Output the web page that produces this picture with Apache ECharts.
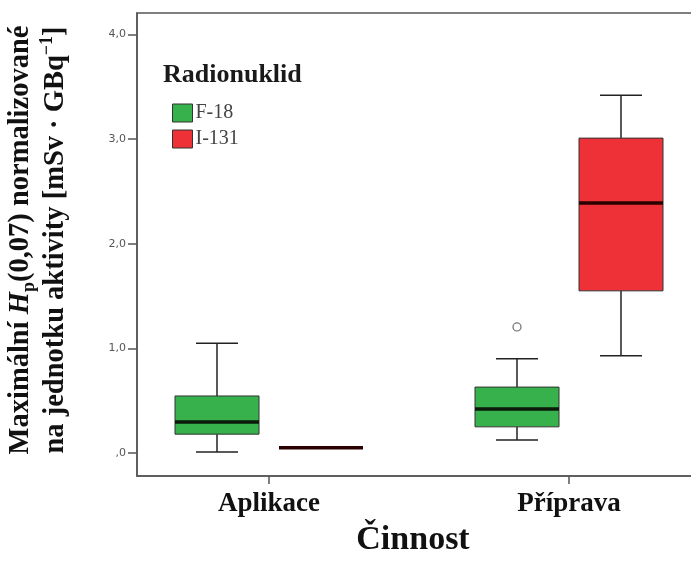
<!DOCTYPE html>
<html>
<head>
<meta charset="utf-8">
<script src="https://cdn.jsdelivr.net/npm/echarts@6/dist/echarts.min.js"></script>
<style>
html, body { margin: 0; padding: 0; background: #fff; }
#main { width: 691px; height: 568px; }
</style>
</head>
<body>
<div id="main"></div>
<script>
var categories = ['Aplikace', 'Příprava'];
// [min, Q1, median, Q3, max] for each category
var f18Box = [[0.01, 0.18, 0.296, 0.545, 1.05], [0.124, 0.25, 0.42, 0.63, 0.90]];
var i131Box = [[0.05, 0.05, 0.05, 0.05, 0.05], [0.93, 1.55, 2.39, 3.01, 3.42]];
// [category index, value]
var f18Outliers = [[1, 1.205]];
var yTicks = [0, 1, 2, 3, 4];
var yTickLabels = [',0', '1,0', '2,0', '3,0', '4,0'];
var catTicks = [1, 2];

var SERIF = 'Liberation Serif';
var BOX_W = 84, SHIFT = 52;

function toData(boxes) {
    return boxes.map(function (b, i) { return [i + 1].concat(b); });
}

function makeBox(shift, medianColor) {
    return function (params, api) {
        var x = api.value(0);
        var py = function (v) { return api.coord([x, v])[1]; };
        var cx = api.coord([x, 0])[0] + shift;
        var yMin = py(api.value(1)), yQ1 = py(api.value(2)), yMed = py(api.value(3));
        var yQ3 = py(api.value(4)), yMax = py(api.value(5));
        var half = BOX_W / 2, cap = BOX_W / 4;
        var ws = { stroke: '#222', lineWidth: 1.5 };
        return {
            type: 'group',
            children: [
                { type: 'line', shape: { x1: cx, y1: yQ3, x2: cx, y2: yMax }, style: ws },
                { type: 'line', shape: { x1: cx, y1: yQ1, x2: cx, y2: yMin }, style: ws },
                { type: 'line', shape: { x1: cx - cap, y1: yMax, x2: cx + cap, y2: yMax }, style: ws },
                { type: 'line', shape: { x1: cx - cap, y1: yMin, x2: cx + cap, y2: yMin }, style: ws },
                { type: 'rect', shape: { x: cx - half, y: yQ3, width: BOX_W, height: yQ1 - yQ3 },
                  style: { fill: api.visual('color'), stroke: '#333', lineWidth: 1 } },
                { type: 'line', shape: { x1: cx - half, y1: yMed, x2: cx + half, y2: yMed },
                  style: { stroke: medianColor, lineWidth: 3.5 } }
            ]
        };
    };
}

var myChart = echarts.init(document.getElementById('main'));
var option = {
    backgroundColor: '#fff',
    animation: false,
    title: {
        text: 'Radionuklid',
        left: 163, top: 62, padding: 0,
        textStyle: { fontFamily: SERIF, fontWeight: 'bold', fontSize: 26, color: '#1a1a1a' }
    },
    legend: {
        data: ['F-18', 'I-131'],
        orient: 'vertical',
        left: 172, top: 103, padding: 0,
        itemWidth: 20, itemHeight: 18, itemGap: 6,
        icon: 'rect',
        itemStyle: { borderColor: '#333', borderWidth: 1 },
        textStyle: { fontFamily: SERIF, fontSize: 20, color: '#444', padding: [0, 0, 0, -2] }
    },
    grid: {
        left: 137, top: 13, right: -40, bottom: 92,
        outerBoundsMode: 'none',
        containLabel: false,
        show: true, borderColor: '#555', borderWidth: 1.5, backgroundColor: 'transparent'
    },
    xAxis: {
        type: 'value',
        min: 0.56, max: 2.54,
        name: 'Činnost',
        nameLocation: 'middle',
        nameGap: 46,
        nameTextStyle: { fontFamily: SERIF, fontWeight: 'bold', fontSize: 34, color: '#111', padding: [0, 42, 0, 0] },
        axisLine: { onZero: false, lineStyle: { color: '#555', width: 1.5 } },
        axisTick: { customValues: catTicks, length: 8, lineStyle: { color: '#555', width: 1.5 } },
        axisLabel: {
            customValues: catTicks,
            margin: 15,
            formatter: function (v) { return categories[Math.round(v) - 1]; },
            fontFamily: SERIF, fontWeight: 'bold', fontSize: 27, color: '#111'
        },
        splitLine: { show: false }
    },
    yAxis: {
        type: 'value',
        min: -0.22, max: 4.206,
        name: 'Maximální {i|H}{sub|p}(0,07) normalizované\nna jednotku aktivity [mSv · GBq{sup|−1}]',
        nameLocation: 'middle',
        nameRotate: 90,
        nameGap: 64,
        nameTextStyle: {
            fontFamily: SERIF, fontWeight: 'bold', fontSize: 28.5, color: '#111', lineHeight: 35,
            padding: [0, 0, 0, 9],
            rich: {
                i: { fontFamily: SERIF, fontWeight: 'bold', fontStyle: 'italic', fontSize: 28.5, color: '#111', lineHeight: 35 },
                sub: { fontFamily: SERIF, fontWeight: 'bold', fontSize: 18, color: '#111', lineHeight: 18, verticalAlign: 'bottom' },
                sup: { fontFamily: SERIF, fontWeight: 'bold', fontSize: 18, color: '#111', lineHeight: 18, verticalAlign: 'top' }
            }
        },
        axisLine: { show: true, onZero: false, lineStyle: { color: '#555', width: 1.5 } },
        axisTick: { show: true, customValues: yTicks, length: 9, lineStyle: { color: '#555', width: 1.5 } },
        axisLabel: {
            customValues: yTicks,
            margin: 11,
            formatter: function (v) { return yTickLabels[yTicks.indexOf(Math.round(v))]; },
            fontFamily: 'DejaVu Sans', fontSize: 11, color: '#555'
        },
        splitLine: { show: false }
    },
    series: [
        {
            name: 'F-18',
            type: 'custom',
            renderItem: makeBox(-SHIFT, '#0b1a0b'),
            itemStyle: { color: '#36b14b' },
            encode: { x: 0, y: [1, 2, 3, 4, 5] },
            data: toData(f18Box)
        },
        {
            name: 'I-131',
            type: 'custom',
            renderItem: makeBox(SHIFT, '#2a0000'),
            itemStyle: { color: '#ee3136' },
            encode: { x: 0, y: [1, 2, 3, 4, 5] },
            data: toData(i131Box)
        },
        {
            name: 'F-18 outliers',
            type: 'scatter',
            symbol: 'circle',
            symbolSize: 8,
            symbolOffset: [-SHIFT, 0],
            itemStyle: { color: '#fff', borderColor: '#555', borderWidth: 1.3 },
            data: f18Outliers.map(function (o) { return [o[0] + 1, o[1]]; })
        }
    ]
};
myChart.setOption(option);
window.onresize = function () {
    myChart.resize();
};
</script>
</body>
</html>
